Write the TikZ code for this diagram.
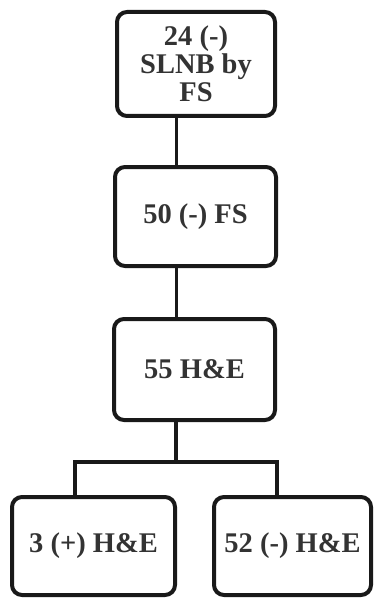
\documentclass[tikz,border=0pt]{standalone}
\usepackage{fontspec}
\setmainfont{Liberation Serif}
\usetikzlibrary{calc}

\begin{document}
\begin{tikzpicture}[x=1pt, y=1pt,
		box/.style={draw=black!90, line width=4pt, rounded corners=10pt, align=center,
			font=\fontsize{28.5}{28}\selectfont\bfseries, text=black!80},
		link/.style={draw=black!90, line width=4pt}]
			\useasboundingbox (0, 0) rectangle (375, -599);
			
			\node[box, minimum width=158, minimum height=104] (fs24) at (196, -64) {24 (-)\\SLNB by\\FS};
			\node[box, minimum width=161, minimum height=99] (fs50) at (195.5, -216.5) {50 (-) FS};
			\node[box, minimum width=161, minimum height=101] (he55) at (194.5, -369.5) {55 H\&E};
			\node[box, minimum width=163, minimum height=98] (pos) at (93.5, -546) {3 (+) H\&E};
			\node[box, minimum width=157, minimum height=98] (neg) at (292.5, -546) {52 (-) H\&E};
			
			\coordinate (trunk) at (176, 0);
			\coordinate (split) at (176, -462);
			\coordinate (left) at (75, 0);
			\coordinate (right) at (277, 0);
			
			\draw[link, line width=3pt] (fs24.south -| trunk)--(fs50.north -| trunk);
			\draw[link, line width=3pt] (fs50.south -| trunk)--(he55.north -| trunk);
			\draw[link] (he55.south -| trunk)--(split);
			\draw[link] (pos.north -| left)--(split -| left)--(split -| right)--(neg.north -| right);
			\end{tikzpicture}
\end{document}
